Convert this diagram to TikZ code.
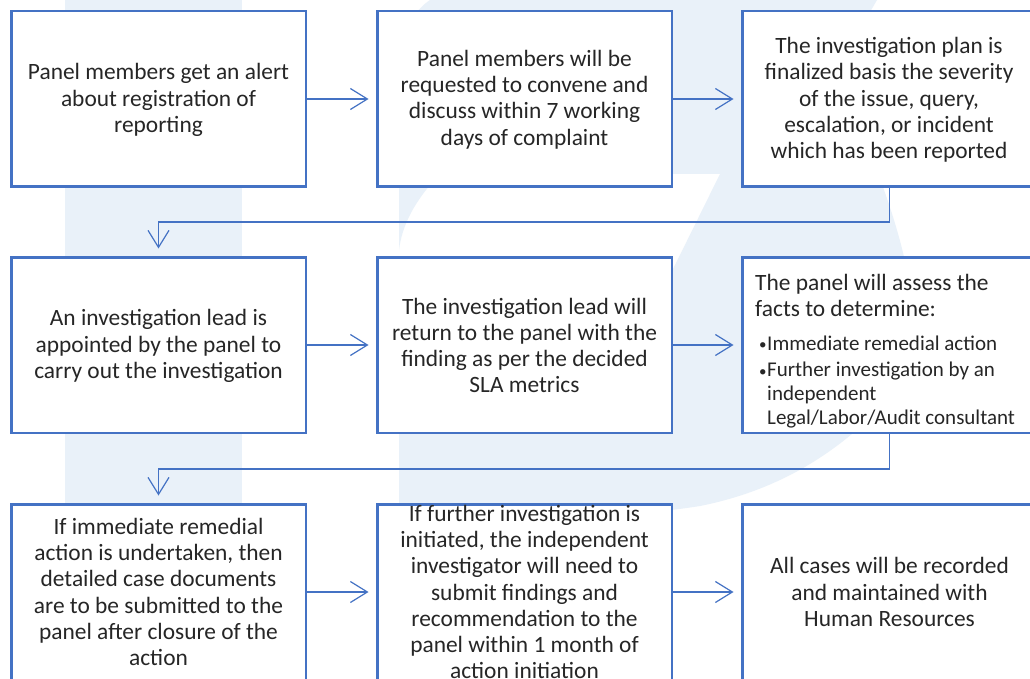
\documentclass[tikz,border=0pt]{standalone}
\usepackage{fontspec}
\setmainfont{Carlito}
\usetikzlibrary{arrows.meta}
\definecolor{boxblue}{HTML}{4472C4}
\definecolor{wmblue}{RGB}{233,241,249}
\definecolor{txt}{HTML}{262626}
\newcommand{\blt}{\hspace*{4pt}\makebox[8pt][l]{\fontsize{15}{15}\selectfont\raisebox{0.5pt}{\textbullet}}}
\tikzset{
  box/.style={draw=boxblue, line width=2.5pt, fill=white, minimum width=294.5pt, minimum height=175.5pt, inner sep=0pt},
  lbl/.style={text=txt, font=\fontsize{23.4}{26.3}\selectfont, align=center, inner sep=0pt},
  conn/.style={draw=boxblue, line width=1.2pt, -{Straight Barb[length=17pt,width=21pt,line width=1.2pt]}, shorten >=7.5pt},
  wm/.style={fill=wmblue, draw=none}
}
\begin{document}
\begin{tikzpicture}[x=1pt,y=-1pt]
\useasboundingbox (0,0) rectangle (1030,679);
\clip (0,0) rectangle (1030,679);
\fill[white] (0,0) rectangle (1030,679);
% watermark
\fill[wm] (65,0) rectangle (242,679);
\fill[wm] (430,0) -- (877,0) -- (870,12)
  .. controls (855,60) and (870,150) .. (884,190)
  .. controls (900,235) and (915,290) .. (912,330)
  .. controls (905,390) and (880,410) .. (859,428)
  .. controls (820,462) and (770,492) .. (700,506)
  .. controls (600,522) and (450,520) .. (399,515)
  -- (399,400)
  .. controls (500,370) and (648,320) .. (675,265)
  -- (720,174) -- (440,174)
  .. controls (415,200) and (402,225) .. (399,250)
  -- (399,60)
  .. controls (402,30) and (415,10) .. (430,0) -- cycle;
% boxes
\node[box] (b1) at (158.5,99) {};
\node[box] (b2) at (524.5,99) {};
\node[box] (b3) at (889.5,99) {};
\node[box] (b4) at (158.5,345) {};
\node[box] (b5) at (524.5,345) {};
\node[box] (b6) at (889.5,345) {};
\node[box] (b7) at (158.5,592) {};
\node[box] (b8) at (524.5,592) {};
\node[box] (b9) at (889.5,592) {};
% texts
\node[lbl] (t1) at (158.5,100) {Panel members get an alert\\about registration of\\reporting};
\node[lbl] (t2) at (524.5,99.5) {Panel members will be\\requested to convene and\\discuss within 7 working\\days of complaint};
\node[lbl] (t3) at (889,100) {The investigation plan is\\finalized basis the severity\\of the issue, query,\\escalation, or incident\\which has been reported};
\node[lbl] (t4) at (158.5,346) {An investigation lead is\\appointed by the panel to\\carry out the investigation};
\node[lbl] (t5) at (524.5,345.5) {The investigation lead will\\return to the panel with the\\finding as per the decided\\SLA metrics};
\node[inner sep=0pt, anchor=base west, text=txt] (t6) at (755,290) {\begin{minipage}[t]{300pt}\raggedright
\fontsize{23.4}{26.7}\selectfont The panel will assess the\\facts to determine:\par
\fontsize{21}{24}\selectfont\vspace{9.3pt}
\hangindent=12pt\hangafter=1\noindent\blt Immediate remedial action\par
\vspace{2.7pt}
\hangindent=12pt\hangafter=1\noindent\blt Further investigation by an\break independent\break Legal/Labor/Audit consultant\par
\end{minipage}};
\node[lbl] (t7) at (158.5,592) {If immediate remedial\\action is undertaken, then\\detailed case documents\\are to be submitted to the\\panel after closure of the\\action};
\node[lbl] (t8) at (524.5,592) {If further investigation is\\initiated, the independent\\investigator will need to\\submit findings and\\recommendation to the\\panel within 1 month of\\action initiation};
\node[lbl] (t9) at (889.5,592) {All cases will be recorded\\and maintained with\\Human Resources};
% connectors
\draw[conn] (b1.east) -- (b2.west);
\draw[conn] (b2.east) -- (b3.west);
\draw[conn] (b4.east) -- (b5.west);
\draw[conn] (b5.east) -- (b6.west);
\draw[conn] (b7.east) -- (b8.west);
\draw[conn] (b8.east) -- (b9.west);
\draw[conn] (b3.south) -- ++(0,34) -| (b4.north);
\draw[conn] (b6.south) -- ++(0,35) -| (b7.north);
\end{tikzpicture}
\end{document}
